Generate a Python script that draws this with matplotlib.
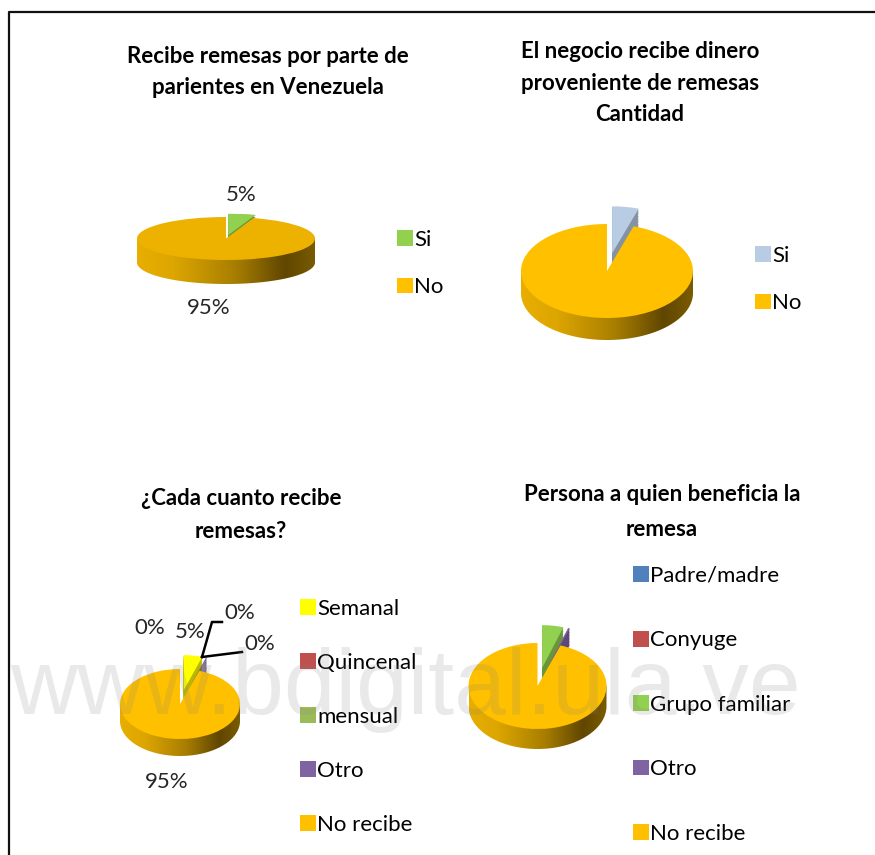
import numpy as np
import matplotlib
matplotlib.use("Agg")
import matplotlib.pyplot as plt
from matplotlib.colors import LinearSegmentedColormap
from matplotlib.lines import Line2D
from matplotlib.patches import Patch, PathPatch
from matplotlib.path import Path

W, H = 875, 855

# data
labels_a = ["Si", "No"]
values_a = [5, 95]
labels_b = ["Si", "No"]
values_b = [5, 95]
labels_c = ["Semanal", "Quincenal", "mensual", "Otro", "No recibe"]
values_c = [5, 0, 0, 0.2, 95]
labels_d = ["Padre/madre", "Conyuge", "Grupo familiar", "Otro", "No recibe"]
values_d = [0, 0, 5, 0.4, 94.6]

title_a = "Recibe remesas por parte de\nparientes en Venezuela"
title_b = "El negocio recibe dinero\nproveniente de remesas\nCantidad"
title_c = "¿Cada cuanto recibe\nremesas?"
title_d = "Persona a quien beneficia la\nremesa"

colors_a = ["#92D050", "#FFC000"]
colors_b = ["#B8CCE4", "#FFC000"]
colors_c = ["#FFFF00", "#C0504D", "#9BBB59", "#8064A2", "#FFC000"]
colors_d = ["#4F81BD", "#C0504D", "#92D050", "#8064A2", "#FFC000"]

side_cmap = LinearSegmentedColormap.from_list(
    "side", [(0, "#E8AE00"), (0.2, "#DDA600"), (0.55, "#A87E00"), (0.83, "#604600"), (1, "#7A5C00")])

plt.rcParams["font.family"] = ["Lato", "DejaVu Sans"]
fig = plt.figure(figsize=(W / 100, H / 100), dpi=100)


def fx(x):
    return x / W


def fy(y):
    return 1 - y / H


def darker(c, f=0.72):
    r, g, b = matplotlib.colors.to_rgb(c)
    return (r * f, g * f, b * f)


def pie3d(values, colors, cx, cy, rx, ry, depth, explode, top_color=None):
    # axes set so that radius 1 in data is rx by ry pixels
    d = depth / ry
    pad_x = 1.6
    pad_y = 1.6 + d
    ax = fig.add_axes([fx(cx - pad_x * rx), fy(cy + pad_y * ry), 2 * pad_x * rx / W, 2 * pad_y * ry / H])
    n = len(values)
    boom = [explode] * (n - 1) + [0]

    # edge of the exploded slices, stacked pies going down
    for off in np.linspace(d * 0.85, 0.02, 12):
        w, _ = ax.pie(values, colors=[darker(c) for c in colors], startangle=90, counterclock=False,
                      explode=boom, center=(0, -off), wedgeprops={"linewidth": 0})
        w[-1].set_visible(False)
        for p in w:
            p.set_zorder(1)

    w, _ = ax.pie(values, colors=colors, startangle=90, counterclock=False,
                  explode=boom, wedgeprops={"linewidth": 0})
    for p in w:
        p.set_zorder(2)
    if top_color:
        w[-1].set_facecolor(top_color)
    w[-1].set_zorder(5)

    # rim of the big slice with the left to right shading
    t = np.linspace(np.pi, 2 * np.pi, 120)
    xs = np.r_[np.cos(t), 1, -1]
    ys = np.r_[np.sin(t) - d, 0, 0]
    clip = PathPatch(Path(np.c_[xs, ys]), transform=ax.transData, facecolor="none", edgecolor="none")
    ax.add_patch(clip)
    im = ax.imshow(np.linspace(0, 1, 256).reshape(1, -1), cmap=side_cmap, extent=(-1, 1, -1 - d, 0),
                   aspect="auto", zorder=4)
    im.set_clip_path(clip)

    ax.set_aspect("auto")
    ax.set_xlim(-pad_x, pad_x)
    ax.set_ylim(-pad_y, pad_y)
    ax.axis("off")
    return ax


def legend(labels, colors, x, y, spacing, size):
    handles = [Patch(facecolor=c, edgecolor="none", label=l) for l, c in zip(labels, colors)]
    fig.legend(handles=handles, loc="upper left", bbox_to_anchor=(fx(x), fy(y)), frameon=False,
               fontsize=size, borderpad=0, borderaxespad=0, handlelength=0.72, handleheight=0.72,
               handletextpad=0.05, labelspacing=spacing)


def pct(v):
    return f"{round(v)}%"


def note(x, y, s, size=16, **kw):
    fig.text(fx(x), fy(y), s, ha="center", va="center", fontsize=size, color="#262626", **kw)


def title(x, y, s, spacing=1.4):
    fig.text(fx(x), fy(y), s, ha="center", va="center", fontsize=16, fontweight="bold",
             color="black", linespacing=spacing)


# frame of the page, open on the right and at the bottom
fig.add_artist(Line2D([fx(9), fx(9), 1], [0, fy(12), fy(12)], color="#111111", lw=1.6))

title(268, 72, title_a, spacing=1.55)
title(640, 83, title_b, spacing=1.6)
title(241, 515, title_c, spacing=1.65)
title(662, 512, title_d, spacing=1.8)

pie3d(values_a, colors_a, 226, 238.5, 89, 21.5, 24, 0.15, top_color="#EDB200")
pie3d(values_b, colors_b, 607, 271, 86, 47, 22, 0.38)
pie3d(values_c, colors_c, 180, 704, 60, 35, 17, 0.4)
pie3d(values_d, colors_d, 537.5, 686, 69, 43, 20, 0.42)

note(241, 195, pct(values_a[0]))
note(209, 308, pct(values_a[1]))
note(150, 628, pct(values_c[1]))
note(190, 632, pct(values_c[0]))
note(240, 613, pct(values_c[2]))
note(260, 644, pct(values_c[3]))
note(167, 782, pct(values_c[4]))

# leader lines of the small slices
fig.add_artist(Line2D([fx(202), fx(212), fx(222)], [fy(657), fy(622), fy(622)], color="black", lw=1.8))
fig.add_artist(Line2D([fx(202), fx(242)], [fy(657), fy(652)], color="black", lw=1.8))

legend(labels_a, colors_a, 397, 230, 1.23, 16)
legend(labels_b, colors_b, 755, 246, 1.23, 16)
legend(labels_c, colors_c, 300, 599, 1.53, 16)
legend(labels_d, colors_d, 633, 566, 2.0, 16)

# watermark over everything
fig.text(fx(405), fy(690), "www.bdigital.ula.ve", ha="center", va="center", fontsize=67,
         family="Liberation Sans", color="#808080", alpha=0.17, zorder=20)

fig.savefig("out.png", dpi=100)
